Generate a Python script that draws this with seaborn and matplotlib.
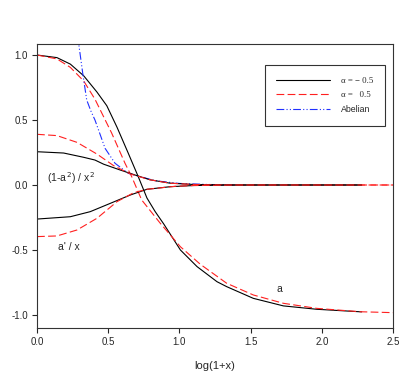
import numpy as np
import pandas as pd
import matplotlib
matplotlib.use("Agg")
import matplotlib.pyplot as plt
import seaborn as sns

# profile a(x) for the two couplings
a_neg_x = [0, 0.14, 0.234, 0.328, 0.421, 0.49, 0.562, 0.641, 0.711, 0.772, 0.83, 0.89, 1.007, 1.124, 1.264, 1.332, 1.519, 1.73, 1.964, 2.28]
a_neg_y = [1.0, 0.98, 0.93, 0.84, 0.715, 0.61, 0.444, 0.244, 0.064, -0.10, -0.205, -0.30, -0.50, -0.628, -0.744, -0.782, -0.872, -0.93, -0.956, -0.976]
a_pos_x = [0, 0.14, 0.234, 0.328, 0.407, 0.524, 0.618, 0.665, 0.735, 0.866, 1.007, 1.147, 1.332, 1.519, 1.73, 1.964, 2.268, 2.5]
a_pos_y = [1.0, 0.97, 0.905, 0.80, 0.66, 0.40, 0.167, 0.064, -0.115, -0.295, -0.475, -0.61, -0.756, -0.846, -0.91, -0.949, -0.975, -0.982]

# (1-a^2)/x^2
f_neg_x = [0, 0.187, 0.328, 0.407, 0.468, 0.585, 0.702, 0.794, 0.934, 1.1, 1.4, 2.28]
f_neg_y = [0.256, 0.246, 0.213, 0.192, 0.16, 0.115, 0.072, 0.04, 0.014, 0.004, 0.0, 0.0]
f_pos_x = [0, 0.14, 0.281, 0.421, 0.538, 0.655, 0.794, 0.934, 1.1, 1.4, 2.5]
f_pos_y = [0.39, 0.38, 0.328, 0.238, 0.149, 0.085, 0.04, 0.014, 0.004, 0.0, 0.0]

# a'/x
d_neg_x = [0, 0.234, 0.374, 0.515, 0.655, 0.772, 0.936, 1.1, 1.4, 2.28]
d_neg_y = [-0.262, -0.244, -0.205, -0.141, -0.077, -0.033, -0.013, -0.004, 0.0, 0.0]
d_pos_x = [0, 0.14, 0.281, 0.421, 0.562, 0.679, 0.772, 0.97, 1.1, 1.4, 2.5]
d_pos_y = [-0.397, -0.392, -0.346, -0.256, -0.128, -0.059, -0.033, -0.01, -0.004, 0.0, 0.0]

# Abelian
ab_x = [0.285, 0.293, 0.321, 0.349, 0.378, 0.407, 0.478, 0.548, 0.641, 0.829, 1.0, 1.2, 1.4]
ab_y = [1.15, 1.085, 0.86, 0.654, 0.57, 0.50, 0.282, 0.167, 0.09, 0.033, 0.012, 0.004, 0.0]

sns.set_theme(style="ticks")
plt.rcParams["font.family"] = ["Liberation Sans", "DejaVu Sans"]

fig = plt.figure(figsize=(4.14, 3.79), dpi=100)
ax = fig.add_axes([0.0894, 0.1346, 0.8599, 0.7494])

lw = 0.8
black = dict(color="black", linewidth=lw, linestyle="-")
red = dict(color="#ff2020", linewidth=lw, dashes=(7, 3))

sns.lineplot(x=a_neg_x, y=a_neg_y, ax=ax, label="α = − 0.5", sort=False, **black)
sns.lineplot(x=a_pos_x, y=a_pos_y, ax=ax, label="α =   0.5", sort=False, **red)
sns.lineplot(x=ab_x, y=ab_y, ax=ax, color="#2030ff", linewidth=lw, dashes=(7, 2, 1, 2, 1, 2),
             label="Abelian", sort=False)
sns.lineplot(x=f_neg_x, y=f_neg_y, ax=ax, sort=False, **black)
sns.lineplot(x=f_pos_x, y=f_pos_y, ax=ax, sort=False, **red)
sns.lineplot(x=d_neg_x, y=d_neg_y, ax=ax, sort=False, **black)
sns.lineplot(x=d_pos_x, y=d_pos_y, ax=ax, sort=False, **red)

ax.set_xlim(0, 2.5)
ax.set_ylim(-1.1, 1.085)
ax.set_xticks([0, 0.5, 1.0, 1.5, 2.0, 2.5])
ax.set_yticks([-1.0, -0.5, 0.0, 0.5, 1.0])
ax.xaxis.set_major_formatter(matplotlib.ticker.FormatStrFormatter("%.1f"))
ax.yaxis.set_major_formatter(matplotlib.ticker.FormatStrFormatter("%.1f"))
ax.tick_params(axis="both", labelsize=7, length=3.5, width=0.8, direction="out", pad=3)
for s in ax.spines.values():
    s.set_linewidth(0.8)
    s.set_color("#333333")
ax.set_xlabel("log(1+x)", fontsize=8, labelpad=10)
ax.set_ylabel("")

ax.text(0.07, 0.05, "(1-a$^{\\,2}$) / x$^{2}$", fontsize=7.5, ha="left", va="center")
ax.text(0.15, -0.48, "a' / x", fontsize=7.5, ha="left", va="center")
ax.text(1.68, -0.80, "a", fontsize=7.5, ha="left", va="center")

leg = ax.legend(loc="upper left", bbox_to_anchor=(0.64, 0.925), fontsize=6.3, frameon=True,
                fancybox=False, edgecolor="black", handlelength=6.2, handletextpad=1.2,
                labelspacing=0.7, borderpad=1.3, borderaxespad=0)
leg.get_frame().set_linewidth(0.8)
for t in leg.get_texts()[:2]:
    t.set_fontfamily("Liberation Serif")

fig.savefig("out.png", dpi=100)
